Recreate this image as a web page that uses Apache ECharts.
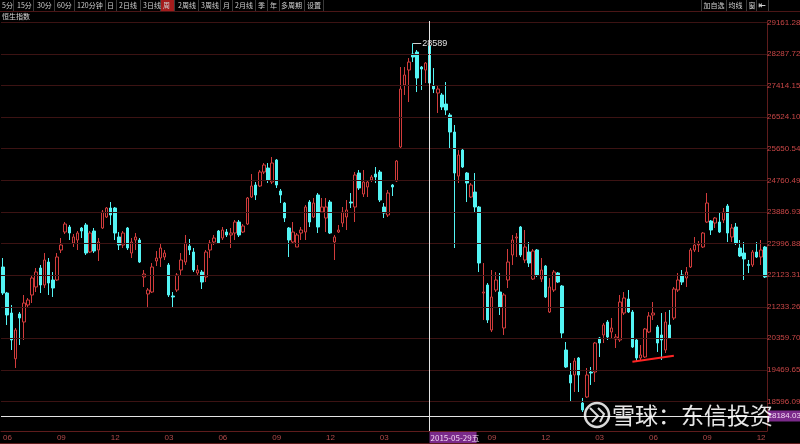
<!DOCTYPE html>
<html><head><meta charset="utf-8">
<script src="https://cdn.jsdelivr.net/npm/echarts@6/dist/echarts.min.js"></script>
<style>html,body{margin:0;padding:0;background:#000;}#c{width:800px;height:444px;}</style>
</head><body><div id="c"></div>
<script>
// ---- data (weekly candles, Hang Seng Index) ----
const startDate = '2013-06-07';
const openVals = [22346,21620,21062,19786,21035,20811,21286,21565,21788,22318,21844,22485,21983,21983,22820,23322,23462,23015,23099,23434,
23518,22764,23350,22820,23434,23741,23992,23992,23183,22960,23434,22736,23099,23099,22067,21593,21648,22513,22597,22625,
22402,21537,21704,22262,22485,22932,22764,22179,22206,22067,22820,23043,23350,23155,23322,23239,23294,23601,23322,23545,
24299,24634,24606,24996,25108,24717,25331,24466,24131,23434,23043,22904,23294,23322,24159,23741,24355,23880,23713,24159,
23043,23322,23573,23741,24159,24020,24968,24383,24578,24773,24940,24996,24020,23797,24634,24745,25694,27424,27842,28288,
28344,27926,27842,28512,27396,27200,27145,26893,26586,26112,24884,25610,24968,24299,24438,24020,21620,21844,20588,21704,
21648,20644,21983,22681,23155,23462,22541,22764,22011,22820,22011,22374,21090,21704,22179,21816,20030,19333,19333,19807,
18551,18719,19416,19416,20365,20449,20811,20532,20337,20309,21062,21453,21090,20309,19807,19835,20532,21007,20672,20449,
20030,20728,20923,21704,22123,22039,22346,22820,22960,22904,23601,23629,23573,23601,23657,24048,23183,23462,22876,22736,
22420,22402,22764,22625,22904];
const closeVals = [21620,21007,20309,20588,20923,21341,21425,22039,22206,21844,22541,21899,21760,22625,22960,23545,23294,23183,23294,23350,
22736,23294,22792,23043,23880,23992,23797,23294,22960,23294,22876,23043,23183,22485,22151,21704,22346,22597,22876,22736,
21565,21509,22123,22541,23015,22820,22262,22262,21927,22764,23015,23155,23015,23378,23239,23294,23601,23239,23490,24271,
24606,24355,24996,25192,24773,25247,24634,24355,23713,23099,23322,23239,23378,24020,23601,24131,23462,24020,24020,23294,
23183,23378,23880,23936,24131,24913,24550,24717,24717,24857,24857,24215,23852,24410,24578,25303,27312,27703,28065,28205,
27619,27870,28037,27479,27312,27312,26810,26726,26112,24968,25471,25136,24689,24634,24020,22457,21648,20867,21509,21983,
21230,21565,22485,23099,23183,22681,22904,22457,22792,22123,22262,21509,21788,22206,21927,20504,19556,19110,19723,19333,
18356,19333,19388,20225,20225,20728,20393,20644,20393,21369,21481,21090,20114,19807,19891,20616,20979,21062,20225,20309,
20811,20365,21732,21983,21927,22206,22820,22960,22987,23294,24131,23378,23713,23322,23880,23294,23434,23015,22653,22569,
22390,22764,22625,22820,22067];
const lowVals = [21565,20728,20030,19528,20170,20309,21230,21341,21648,21620,21760,21565,21509,21955,22736,23266,23099,22904,22820,23155,
22681,22736,22736,22513,23406,23713,23518,23099,22820,22876,22820,22597,22820,22457,21788,21230,21620,22374,22346,22541,
21509,21202,21648,22095,22402,22681,22206,22123,21732,21927,22597,22960,22987,23099,23183,22876,23099,23183,23294,23518,
24271,24215,24578,24940,24689,24661,24550,24131,23601,22625,23015,22904,23099,23099,23462,23713,23294,23852,23322,23266,
22541,23294,23462,23378,23992,23601,24494,24299,24299,24717,24689,24159,23713,23741,24327,24717,25666,27145,26949,28065,
27228,27284,27479,27340,27200,26643,26726,26586,25666,22876,24689,25108,24159,24271,23880,22206,20867,20783,20532,21648,
21007,20449,21760,22402,22625,22625,22457,22346,21983,22067,21927,21481,21062,21648,21899,20365,19528,18579,18858,18858,
18300,18691,19054,19137,19835,20225,20309,20365,20086,20253,21007,21062,20086,19695,19751,19807,20504,20867,19975,19751,
19947,20337,20867,21648,21844,21788,22318,22764,22764,22876,23573,23239,23434,23294,23573,23043,23043,22960,22625,21983,
22179,22346,22597,22402,22039];
const highVals = [22597,21650,21286,20644,21090,21565,21481,22123,22318,22402,22736,22597,22206,22736,23155,23601,23518,23266,23350,23462,
23573,23350,23434,23155,23936,24020,24159,24020,23322,23350,23462,23155,23294,23155,22262,21760,22457,22792,22987,22820,
22457,21648,22179,22736,23239,23127,22876,22402,22262,22820,23099,23239,23378,23462,23406,23434,23657,23657,23545,24299,
24940,24717,25052,25247,25247,25415,25359,24522,24159,23462,23601,23294,23462,24075,24215,24271,24410,24271,24271,24215,
23239,23518,24020,24215,24410,24996,25052,25052,24773,24913,25136,25052,24131,24494,24661,25331,27926,27926,28177,28589,
28400,27954,28065,28540,27898,27424,27200,27507,26643,26308,25610,25666,24996,24689,24968,24048,22457,21899,22262,22206,
22179,21620,22848,23239,23294,23490,23378,23043,22848,22848,22597,22402,22039,22262,22206,21844,20253,19667,19807,19835,
18691,19528,19556,20253,20393,20783,20867,20923,20477,21565,21648,21704,21146,20365,20170,20644,21090,21369,20728,21062,
21090,21146,21788,22179,22262,22346,22876,23183,23071,23322,24410,23657,23741,23880,23992,24103,23545,23573,23099,23043,
22541,22820,23043,23099,22932];
const yTicks = [29161.28,28287.72,27414.15,26524.10,25650.54,24760.49,23886.93,22996.88,22123.31,21233.26,20359.70,19469.65,18596.09];
const crossDate = '2015-05-29';
const crossPrice = 18184.03;
const trendLine = [[152, 19700], [162, 19870]]; // [week index, price]
const toolbarItems = ['5分','15分','30分','60分','120分钟','日','2日线','3日线','周','2周线','3周线','月','2月线','季','年','多周期','设置'];
const rightTools = ['加自选','均线','窗','⇤'];
const titleText = '恒生指数';
const watermark = '雪球：东信投资';

// ---- build ----
const n = openVals.length;
const categories = [];
{ const t0 = Date.parse(startDate + 'T00:00:00Z'); for (let i = 0; i < n; i++) categories.push(new Date(t0 + i * 7 * 864e5).toISOString().slice(0, 10)); }
const candles = openVals.map((o, i) => [o, closeVals[i], lowVals[i], highVals[i]]);
const peakVal = Math.max(...highVals);
const peakIdx = highVals.indexOf(peakVal);
const isQuarterStart = v => { const m = +v.slice(5, 7), d = +v.slice(8, 10); return m % 3 === 0 && d <= 7; };

const RED = '#d23c3c', CYAN = '#54f4f4', GRID = '#3c1313', AXIS = '#5e1c1c', CROSS = '#e4e4e4';
const CJK = '"Noto Sans CJK SC", sans-serif';
const NUMFONT = '"Liberation Sans", sans-serif';

const chart = echarts.init(document.getElementById('c'));
const option = {
  backgroundColor: '#000',
  animation: false,
  grid: { left: 1, right: 33, top: 21, bottom: 13, outerBoundsMode: 'none', containLabel: false },
  xAxis: {
    type: 'category', data: categories, boundaryGap: true,
    axisLine: { lineStyle: { color: AXIS } }, axisTick: { show: false }, splitLine: { show: false },
    axisLabel: { interval: (i, v) => isQuarterStart(v), formatter: v => v.slice(5, 7), align: 'left',
      color: '#b04a4a', fontSize: 8, margin: 3, fontFamily: 'Liberation Sans' }
  },
  yAxis: {
    type: 'value', position: 'right', min: 17770, max: 29210,
    axisLine: { show: true, lineStyle: { color: AXIS } }, axisTick: { show: false }, splitLine: { show: false },
    axisLabel: { customValues: yTicks, formatter: v => v.toFixed(2), color: '#c84646', fontSize: 8, margin: 0, fontFamily: NUMFONT }
  },
  series: [
    { type: 'line', data: categories.map(() => null), silent: true, z: 1, showSymbol: false,
      markLine: { symbol: 'none', silent: true, label: { show: false },
        lineStyle: { color: GRID, width: 1, type: 'solid' }, data: yTicks.map(v => ({ yAxis: v })) } },
    { type: 'candlestick', z: 3, barWidth: 3, data: candles,
      itemStyle: { color: '#000', color0: CYAN, borderColor: RED, borderColor0: CYAN, borderWidth: 1 },
      markLine: { symbol: 'none', silent: true, data: [
        { xAxis: crossDate, lineStyle: { color: CROSS, width: 1, type: 'solid' }, label: { show: false } },
        { yAxis: crossPrice, lineStyle: { color: CROSS, width: 1, type: 'solid' }, label: { show: false } },
        [ { coord: [categories[trendLine[0][0]], trendLine[0][1]], lineStyle: { color: '#ff2424', width: 2, type: 'solid' }, label: { show: false } },
          { coord: [categories[trendLine[1][0]], trendLine[1][1]] } ],
        [ { coord: [categories[peakIdx], peakVal], lineStyle: { color: '#d0d0d0', width: 1, type: 'solid' },
            label: { show: true, position: 'end', distance: 1, formatter: () => String(peakVal), color: '#e0e0e0', fontSize: 9, fontFamily: 'Liberation Sans' } },
          { coord: [categories[peakIdx + 2], peakVal] } ]
      ] } }
  ]
};
chart.setOption(option);

// ---- chrome / labels ----
const g = [];
g.push({ type: 'line', shape: { x1: 0, y1: 11.5, x2: 800, y2: 11.5 }, style: { stroke: '#4a1616', lineWidth: 1 }, silent: true });
g.push({ type: 'line', shape: { x1: 0, y1: 443.5, x2: 800, y2: 443.5 }, style: { stroke: AXIS, lineWidth: 1 }, silent: true });
const tbX = [2, 17, 37, 57, 77, 107, 119, 143, 163, 178, 201, 223, 235, 258, 270, 281, 307];
const tbSep = [13.5, 33.5, 54.5, 74.5, 105.5, 116.5, 140.5, 160.5, 174.5, 198.5, 220.5, 232.5, 255.5, 267.5, 279.5, 304.5, 323.5];
toolbarItems.forEach((t, i) => {
  if (t === '周') g.push({ type: 'rect', shape: { x: 161, y: 0, width: 13, height: 11 }, style: { fill: '#a41c1c' }, silent: true });
  g.push({ type: 'text', x: tbX[i], y: 5.5, style: { text: t, fill: '#cfcfcf', font: '7px ' + CJK, verticalAlign: 'middle' }, silent: true, z: 10 });
  g.push({ type: 'line', shape: { x1: tbSep[i], y1: 0, x2: tbSep[i], y2: 11 }, style: { stroke: '#3a3a3a', lineWidth: 1 }, silent: true });
});
const rtX = [703.5, 728.5, 748.5, 758.5];
const rtSep = [701.5, 726.5, 746.5, 756.5, 768.5];
rightTools.forEach((t, i) => {
  g.push({ type: 'text', x: rtX[i], y: 5.5, style: { text: t, fill: '#d0d0d0', font: (i === 3 ? 'bold 9px "DejaVu Sans"' : '7px ' + CJK), verticalAlign: 'middle' }, silent: true, z: 10 });
});
rtSep.forEach(x => g.push({ type: 'line', shape: { x1: x, y1: 0, x2: x, y2: 11 }, style: { stroke: '#3a3a3a', lineWidth: 1 }, silent: true }));
g.push({ type: 'text', x: 2, y: 16.5, style: { text: titleText, fill: '#d8d8d8', font: '7px ' + CJK, verticalAlign: 'middle' }, silent: true });

const cx = chart.convertToPixel({ xAxisIndex: 0 }, crossDate);
const cy = chart.convertToPixel({ yAxisIndex: 0 }, crossPrice);
g.push({ type: 'rect', shape: { x: cx, y: 432, width: 47, height: 11 }, style: { fill: '#7a2a8a' }, silent: true, z: 20 });
g.push({ type: 'text', x: cx + 1, y: 437.5, style: { text: crossDate + '五', fill: '#f2d6f2', font: '8px ' + CJK, verticalAlign: 'middle' }, silent: true, z: 21 });
g.push({ type: 'rect', shape: { x: 768, y: Math.round(cy) - 5.5, width: 32, height: 11 }, style: { fill: '#7a2a8a' }, silent: true, z: 20 });
g.push({ type: 'text', x: 767.5, y: Math.round(cy), style: { text: crossPrice.toFixed(2), fill: '#f2d6f2', font: '8px ' + NUMFONT, verticalAlign: 'middle' }, silent: true, z: 21 });

// watermark
g.push({ type: 'circle', shape: { cx: 597, cy: 415, r: 12 }, style: { fill: 'none', stroke: 'rgba(255,255,255,0.85)', lineWidth: 2.5 }, silent: true, z: 30 });
g.push({ type: 'polyline', shape: { points: [[590, 408], [598, 416], [592, 422]] }, style: { fill: 'none', stroke: 'rgba(255,255,255,0.85)', lineWidth: 2 }, silent: true, z: 30 });
g.push({ type: 'polyline', shape: { points: [[598, 408], [604, 414], [600, 422]] }, style: { fill: 'none', stroke: 'rgba(255,255,255,0.85)', lineWidth: 2 }, silent: true, z: 30 });
g.push({ type: 'text', x: 612, y: 415, style: { text: watermark, fill: 'rgba(255,255,255,0.9)', font: '23px ' + CJK, verticalAlign: 'middle' }, silent: true, z: 30 });

chart.setOption({ graphic: g });
</script></body></html>
